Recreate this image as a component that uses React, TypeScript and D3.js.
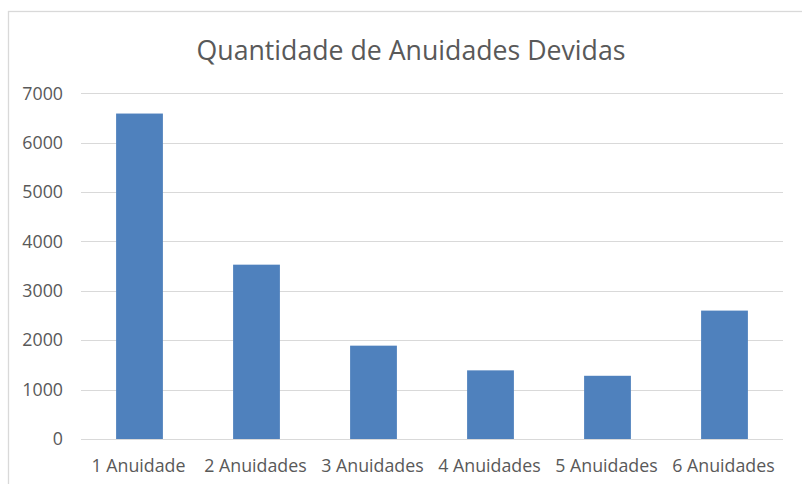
import React from "react";
import * as d3 from "d3";

// valores
const categories = ["1 Anuidade", "2 Anuidades", "3 Anuidades", "4 Anuidades", "5 Anuidades", "6 Anuidades"];
const counts = [6590, 3530, 1890, 1390, 1280, 2600];
const yTicks = [0, 1000, 2000, 3000, 4000, 5000, 6000, 7000];
const title = "Quantidade de Anuidades Devidas";

const W = 802;
const H = 484;
const FONT = "'Open Sans', 'Segoe UI', sans-serif";
const TEXT = "#595959";
const GRID = "#d9d9d9";
const BAR = "#4f81bd";

export default function App() {
  const left = 81, right = 783, top = 93.3, bottom = 439;

  const x = d3.scaleBand<string>()
    .domain(categories)
    .range([left, right])
    .paddingInner(0.6)
    .paddingOuter(0.3);
  const y = d3.scaleLinear().domain([0, 7000]).range([bottom, top]);

  return (
    <svg width={W} height={H} style={{ position: "absolute", left: 0, top: 0 }}
      fontFamily={FONT}>
      <rect x={0} y={0} width={W} height={H} fill="#fff" />
      {/* borda da área do gráfico (cortada à direita e embaixo) */}
      <rect x={8.5} y={11.5} width={W + 20} height={H + 20} fill="none" stroke={GRID} strokeWidth={1.3} />

      <text x={411} y={60} textAnchor="middle" fontSize={26.7} fill={TEXT}>{title}</text>

      {yTicks.map(t => (
        <g key={t}>
          <line x1={left} x2={right} y1={Math.round(y(t)) + 0.5} y2={Math.round(y(t)) + 0.5}
            stroke={GRID} strokeWidth={1} />
          <text x={63} y={y(t)} dy="0.35em" textAnchor="end" fontSize={17.8} fill={TEXT}>{t}</text>
        </g>
      ))}

      {categories.map((c, i) => (
        <rect key={c} x={x(c)} y={y(counts[i])} width={x.bandwidth()}
          height={bottom - y(counts[i])} fill={BAR} />
      ))}

      {categories.map(c => (
        <text key={c} x={(x(c) as number) + x.bandwidth() / 2 - 1} y={472} textAnchor="middle"
          fontSize={17.8} fill={TEXT}>{c}</text>
      ))}
    </svg>
  );
}
